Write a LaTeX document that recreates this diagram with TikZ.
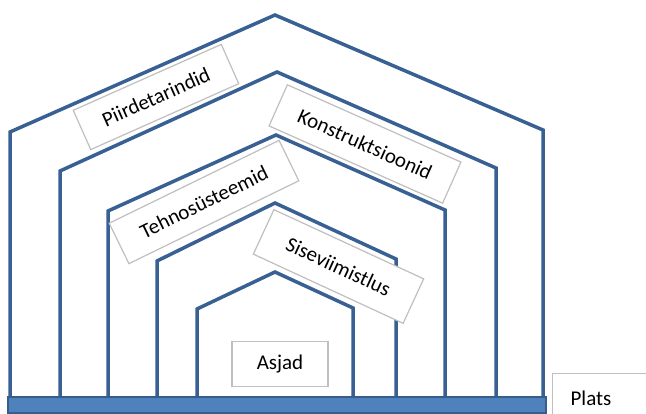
\documentclass[tikz,border=0pt]{standalone}
\usepackage{fontspec}
\setmainfont{Carlito}
\definecolor{wallblue}{RGB}{56,96,146}
\definecolor{floorblue}{RGB}{79,129,189}
\definecolor{floorline}{RGB}{56,93,138}
\definecolor{boxgray}{RGB}{191,191,191}
\tikzstyle{layer} = [draw=wallblue, line width=3.5pt]
\tikzstyle{floor} = [fill=floorblue, draw=floorline, line width=2pt]
\tikzstyle{tag} = [rectangle, draw=boxgray, line width=1.2pt, fill=white, text centered, font=\fontsize{21}{25}\selectfont]

\begin{document}
\begin{tikzpicture}[x=1pt, y=-1pt]
            \clip (0,0) rectangle (646,414);
            % kihid
            \draw [layer] (10,397) -- (10,132) -- (275,15) -- (543,130) -- (543,397);
            \draw [layer] (60,397) -- (60,171) -- (277,72) -- (496,168) -- (496,397);
            \draw [layer] (108,397) -- (108,211) -- (276,135) -- (445,210) -- (445,397);
            \draw [layer] (157,397) -- (157,261) -- (275,203) -- (396,259) -- (396,397);
            \draw [layer] (197,397) -- (197,309) -- (275,272) -- (353,308) -- (353,397);
            \draw [floor] (8,397) rectangle (546,413);

            \node [tag, rotate=24, minimum width=162pt, minimum height=43pt] at (156,97) (piirde) {Piirdetarindid};
            \node [tag, rotate=-24, minimum width=190pt, minimum height=45pt] at (365,144) (konstr) {Konstruktsioonid};
            \node [tag, rotate=26, minimum width=189pt, minimum height=45pt] at (204,202) (tehno) {Tehnosüsteemid};
            \node [tag, rotate=-24.8, minimum width=165pt, minimum height=49pt] at (338.5,266.5) (sise) {Siseviimistlus};
            \node [tag, minimum width=96pt, minimum height=45pt] at (280,364) (asjad) {Asjad};
            \node [tag, anchor=north west, minimum height=50pt, text width=80pt, align=left, inner xsep=18pt] at (552,373) (plats) {Plats};
            \end{tikzpicture}
\end{document}
